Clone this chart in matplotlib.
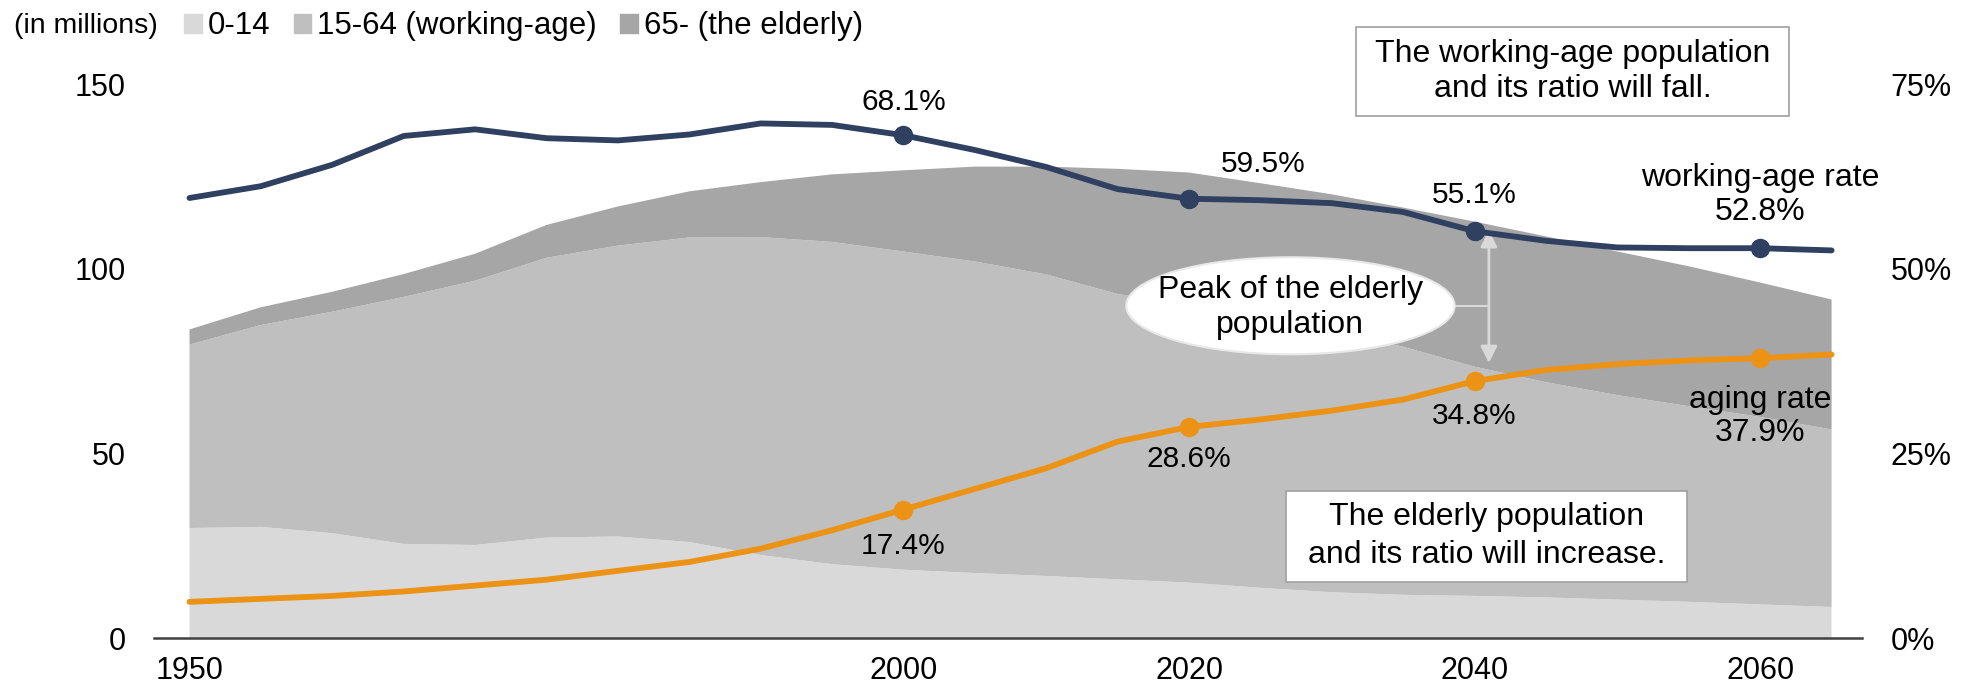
import numpy as np
import matplotlib.pyplot as plt
from matplotlib.patches import Ellipse, Patch, Rectangle

plt.rcParams['font.family'] = ['Liberation Sans', 'DejaVu Sans']

years = list(range(1950, 2066, 5))
pop_0_14 = [29.8, 30.1, 28.4, 25.5, 25.2, 27.2, 27.5, 26.0, 22.5, 20.0, 18.5, 17.6,
            16.8, 15.9, 15.0, 13.6, 12.4, 11.7, 11.4, 11.0, 10.4, 9.8, 9.1, 8.4]
pop_15_64 = [49.7, 54.7, 60.0, 66.9, 71.6, 75.8, 78.8, 82.5, 86.1, 87.3, 86.2, 84.4,
             81.7, 77.3, 75.1, 73.1, 70.8, 67.2, 62.1, 58.3, 55.4, 53.0, 50.8, 48.1]
pop_65 = [4.1, 4.8, 5.4, 6.2, 7.3, 8.9, 10.6, 12.5, 14.9, 18.3, 22.0, 25.7,
          29.2, 33.9, 36.0, 36.5, 37.0, 37.7, 39.3, 39.5, 38.9, 37.9, 36.4, 35.2]
working_rate = [59.6, 61.2, 64.1, 68.0, 68.9, 67.7, 67.4, 68.2, 69.7, 69.5, 68.1, 66.1,
                63.8, 60.8, 59.5, 59.3, 58.9, 57.7, 55.1, 53.8, 52.9, 52.8, 52.8, 52.5]
aging_rate = [4.9, 5.3, 5.7, 6.3, 7.1, 7.9, 9.1, 10.3, 12.1, 14.6, 17.4, 20.2,
              23.0, 26.6, 28.6, 29.6, 30.8, 32.3, 34.8, 36.3, 37.1, 37.6, 37.9, 38.4]
marked_years = [2000, 2020, 2040, 2060]
legend_labels = ["0-14", "15-64 (working-age)", "65- (the elderly)"]

area_colors = ["#d9d9d9", "#bfbfbf", "#a6a6a6"]
navy = "#2f4060"
orange = "#ec9316"
fs_tick = 22
fs_pct = 21.5
fs_txt = 23


def note_box(ax, x0, x1, y0, y1, text, spacing):
    # white box with grey frame, drawn in data coordinates
    ax.add_patch(Rectangle((x0, y0), x1 - x0, y1 - y0, fc="white", ec="#a0a0a0",
                           lw=1.2, zorder=6, clip_on=False))
    ax.text((x0 + x1) / 2, (y0 + y1) / 2, text, fontsize=fs_txt, ha='center',
            va='center', linespacing=spacing, zorder=7)


def main():
    fig = plt.figure(figsize=(19.72, 6.91), dpi=100)
    ax = fig.add_axes([0.078, 0.0767, 0.866, 0.8013])
    ax.stackplot(years, pop_0_14, pop_15_64, pop_65, colors=area_colors, zorder=1)
    ax.set_xlim(1947.5, 2067.1)
    ax.set_ylim(0, 150)
    ax.set_yticks([0, 50, 100, 150])
    ax.set_xticks([1950, 2000, 2020, 2040, 2060])
    ax.tick_params(axis='y', length=0, labelsize=fs_tick, pad=20)
    ax.tick_params(axis='x', length=0, labelsize=fs_tick, pad=13)
    for s in ["top", "left", "right"]:
        ax.spines[s].set_visible(False)
    ax.spines["bottom"].set_color("#404040")
    ax.spines["bottom"].set_linewidth(1.8)
    ax.spines["bottom"].set_zorder(5)

    ax2 = ax.twinx()
    ax2.set_ylim(0, 75)
    ax2.set_yticks([0, 25, 50, 75])
    ax2.set_yticklabels(["%d%%" % v for v in [0, 25, 50, 75]])
    ax2.tick_params(axis='y', length=0, labelsize=fs_tick, pad=21)
    for s in ["top", "left", "right", "bottom"]:
        ax2.spines[s].set_visible(False)

    idx = [years.index(y) for y in marked_years]
    ax2.plot(years, working_rate, color=navy, lw=4.2, solid_capstyle='round', zorder=4)
    ax2.plot(marked_years, [working_rate[i] for i in idx], 'o', color=navy, ms=13, zorder=4)
    ax2.plot(years, aging_rate, color=orange, lw=4.2, solid_capstyle='round', zorder=4)
    ax2.plot(marked_years, [aging_rate[i] for i in idx], 'o', color=orange, ms=13, zorder=4)

    # rate labels
    ax2.text(2000, 72.6, "%.1f%%" % working_rate[idx[0]], fontsize=fs_pct, ha='center', va='center')
    ax2.text(2025.2, 64.2, "%.1f%%" % working_rate[idx[1]], fontsize=fs_pct, ha='center', va='center')
    ax2.text(2040, 60.0, "%.1f%%" % working_rate[idx[2]], fontsize=fs_pct, ha='center', va='center')
    ax2.text(2060, 60.0, "working-age rate\n%.1f%%" % working_rate[idx[3]], fontsize=fs_txt,
             ha='center', va='center', linespacing=1.15)
    ax2.text(2000, 12.4, "%.1f%%" % aging_rate[idx[0]], fontsize=fs_pct, ha='center', va='center')
    ax2.text(2020, 24.2, "%.1f%%" % aging_rate[idx[1]], fontsize=fs_pct, ha='center', va='center')
    ax2.text(2040, 30.1, "%.1f%%" % aging_rate[idx[2]], fontsize=fs_pct, ha='center', va='center')
    ax2.text(2060, 30.0, "aging rate\n%.1f%%" % aging_rate[idx[3]], fontsize=fs_txt,
             ha='center', va='center', linespacing=1.15)

    note_box(ax, 2031.7, 2062.0, 141.5, 165.4,
             "The working-age population\nand its ratio will fall.", 1.22)
    note_box(ax, 2026.8, 2054.9, 15.3, 39.9,
             "The elderly population\nand its ratio will increase.", 1.35)

    # peak of the elderly population
    ax.annotate("", xy=(2041, 110.5), xytext=(2041, 74.5),
                arrowprops=dict(arrowstyle="<|-|>", color="#d9d9d9", lw=2,
                                mutation_scale=25, shrinkA=0, shrinkB=0), zorder=3)
    ax.plot([2036.5, 2041], [90, 90], color="#d9d9d9", lw=1.5, zorder=3)
    ax.add_patch(Ellipse((2027.1, 90), 23, 26.3, fc="white", ec="#e8e8e8", lw=1.5, zorder=3))
    ax.text(2027.1, 89.5, "Peak of the elderly\npopulation", fontsize=fs_txt, ha='center',
            va='center', linespacing=1.22, zorder=4)

    handles = [Patch(color=c) for c in area_colors]
    fig.text(0.007, 0.962, "(in millions)", fontsize=20.5, va='center', ha='left')
    fig.legend(handles, legend_labels, loc='center left', bbox_to_anchor=(0.0935, 0.962),
               ncol=3, frameon=False, fontsize=22.5, handlelength=0.55, handleheight=0.55,
               handletextpad=0.2, columnspacing=0.75, borderaxespad=0, borderpad=0)

    fig.savefig("out.png", dpi=100)


if __name__ == '__main__':
    main()
